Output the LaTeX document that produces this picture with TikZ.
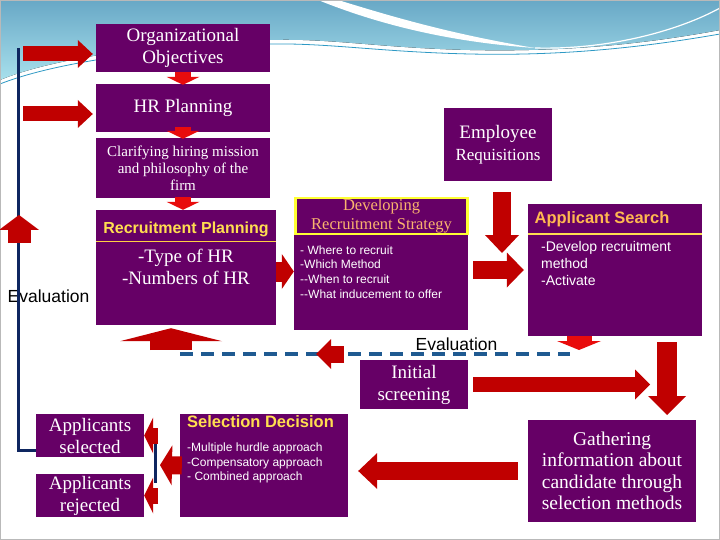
\documentclass[tikz,border=0pt]{standalone}
\usepackage{fontspec}
\setmainfont{Liberation Serif}
\newfontfamily\arialfont{Liberation Sans}
\usetikzlibrary{arrows.meta}

\definecolor{hrpurple}{RGB}{102,0,102}
\definecolor{arrowred}{RGB}{192,0,0}
\definecolor{chevred}{RGB}{232,12,12}
\definecolor{evalnavy}{RGB}{14,38,96}
\definecolor{dashblue}{RGB}{31,90,145}
\definecolor{headyellow}{RGB}{255,222,80}
\definecolor{headorange}{RGB}{255,184,80}
\definecolor{stratorange}{RGB}{250,180,110}
\definecolor{frameyellow}{RGB}{255,255,51}
\definecolor{skytop}{RGB}{104,168,198}
\definecolor{skybot}{RGB}{168,224,236}

\newcommand\serifbig{\fontsize{19}{22}\selectfont}
\newcommand\serifmid{\fontsize{16.5}{18.5}\selectfont}
\newcommand\serifsmall{\fontsize{15}{17}\selectfont}
\newcommand\arialhead{\arialfont\bfseries\fontsize{16.5}{19}\selectfont}
\newcommand\arialmid{\arialfont\fontsize{14}{17}\selectfont}
\newcommand\arialsmall{\arialfont\fontsize{12}{14.6}\selectfont}
\newcommand\arialeval{\arialfont\fontsize{17.5}{20}\selectfont}

\begin{document}
\begin{tikzpicture}[x=1pt, y=-1pt,
    box/.style={fill=hrpurple, text=white, inner sep=0pt, align=center},
    lbl/.style={inner sep=0pt, align=left, text=white, anchor=west},
    blockarrow/.style n args={3}{draw=arrowred, line width=#1,
      -{Triangle[width=#2, length=#3, line width=0pt]}},
    chev/.style={draw=chevred, line width=16pt,
      -{Triangle[width=33pt, length=8pt, line width=0pt]}}]

    \useasboundingbox (0,0) rectangle (720,540);

    % 背景 (上の青い帯)
    \fill[top color=skytop, bottom color=skybot]
      (0,0) -- (720,0) -- (720,30) .. controls (640,45) and (560,52) .. (470,50)
      .. controls (380,48) and (330,38) .. (270,40)
      .. controls (180,42) and (60,55) .. (0,80) -- cycle;
    \fill[white] (318,0) .. controls (380,25) and (450,42) .. (535,48)
      .. controls (450,34) and (390,16) .. (338,0) -- cycle;
    \draw[white, line width=1.2pt] (535,48) .. controls (610,50) and (680,30) .. (720,8);
    \draw[cyan!55!teal, line width=0.8pt] (0,84) .. controls (60,60) and (180,46) .. (270,44)
      .. controls (330,43) and (380,52) .. (470,54) .. controls (560,56) and (640,48) .. (720,34);
    \draw[gray!55, line width=1.2pt] (0.6,0.6) rectangle (719.4,539.4);

    % 左上の流れ
    \node[box, minimum width=174pt, minimum height=48pt, font=\serifbig] (orgobj) at (183,48) {Organizational\\Objectives};
    \node[box, minimum width=174pt, minimum height=48pt, font=\serifbig] (hrplan) at (183,108) {HR Planning};
    \node[box, minimum width=174pt, minimum height=60pt, font=\serifsmall] (clarify) at (183,168) {Clarifying hiring mission\\and philosophy of the\\firm};

    % 採用計画
    \node[box, minimum width=180pt, minimum height=115pt] (recplan) at (186,267.5) {};
    \node[font=\arialfont\bfseries\fontsize{16}{18}\selectfont, text=headyellow, inner sep=0pt] (rechead) at (186,229) {Recruitment Planning};
    \draw[headyellow!85!orange, line width=1pt] (96,241) -- (276,241);
    \node[lbl, anchor=center, align=center, font=\serifbig] (rectext) at (186,267) {-Type of HR\\-Numbers of HR};

    % 採用戦略
    \node[box, minimum width=174pt, minimum height=95pt] (strat) at (381,282.5) {};
    \node[box, draw=frameyellow, line width=2.5pt, minimum width=172pt, minimum height=36pt,
      text=stratorange, font=\serifmid] (strathead) at (381.5,216) {Developing\\Recruitment Strategy};
    \node[lbl, font=\arialsmall] (strattext) at (300,272) {- Where to recruit\\-Which Method\\--When to recruit\\--What inducement to offer};

    % 要員要求
    \node[box, minimum width=108pt, minimum height=73pt, font=\serifbig] (empreq) at (498,144.5) {Employee\\\fontsize{17}{21}\selectfont Requisitions};

    % 応募者探索
    \node[box, minimum width=174pt, minimum height=132pt] (search) at (615,270) {};
    \node[font=\arialhead, text=headorange, inner sep=0pt] (searchhead) at (602,219) {Applicant Search};
    \draw[headyellow, line width=2pt] (528,234) -- (702,234);
    \node[lbl, font=\arialmid] (searchtext) at (541,263) {-Develop recruitment\\method\\-Activate};

    % 評価の文字
    \node[font=\arialeval, inner sep=0pt] (evalleft) at (48.5,296) {Evaluation};
    \node[font=\arialeval, inner sep=0pt] (evalmid) at (456.5,344) {Evaluation};

    % 下段
    \node[box, minimum width=108pt, minimum height=49pt, font=\serifbig] (initscr) at (414,384.5) {Initial\\screening};
    \node[box, minimum width=168pt, minimum height=102pt, font=\fontsize{19.5}{21.5}\selectfont] (gather) at (612,471) {Gathering\\information about\\candidate through\\selection methods};
    \node[box, minimum width=168pt, minimum height=103pt] (seldec) at (264,465.5) {};
    \node[font=\arialhead, text=headyellow, inner sep=0pt] (selhead) at (260.5,422) {Selection Decision};
    \node[lbl, font=\arialsmall] (seltext) at (187,463) {-Multiple hurdle approach\\-Compensatory approach\\- Combined approach};
    \node[box, minimum width=108pt, minimum height=43pt, font=\serifbig] (appsel) at (90,435.5) {Applicants\\selected};
    \node[box, minimum width=108pt, minimum height=43pt, font=\serifbig] (apprej) at (90,495.5) {Applicants\\rejected};

    % 評価のフィードバック線
    \coordinate (loopTop) at (18,48);
    \draw[evalnavy, line width=3pt] (loopTop) |- ([yshift=-14.5pt]appsel.west);
    \coordinate (dashL) at (180,354);
    \coordinate (dashR) at (570,354);
    \draw[dashblue, line width=4pt, dash pattern=on 13pt off 8pt] (dashL) -- (dashR);

    % 左からの矢印
    \coordinate (inA) at (23,54);
    \coordinate (inB) at (23,114);
    \draw[blockarrow={15pt}{28pt}{15pt}, shorten >=3pt] (inA) -- ([yshift=-6pt]orgobj.west);
    \draw[blockarrow={15pt}{28pt}{15pt}, shorten >=3pt] (inB) -- ([yshift=-6pt]hrplan.west);

    % 箱の間の小さい矢印
    \draw[chev] (orgobj.south) -- ([yshift=-1pt]hrplan.north);
    \draw[chev] ([yshift=5pt]hrplan.south) -- ([yshift=-1pt]clarify.north);
    \draw[chev] ([yshift=1pt]clarify.south) -- (clarify.south |- recplan.north);

    % 評価 (上向き)
    \coordinate (evalTail) at (19,243);
    \coordinate (evalTip) at (19,215);
    \draw[blockarrow={23pt}{40pt}{15pt}] (evalTail) -- (evalTip);

    % 計画 -> 戦略 -> 探索
    \draw[blockarrow={20pt}{35pt}{12pt}] ([yshift=-4pt]recplan.east) -- ([yshift=-4pt]recplan.east -| strat.west);
    \coordinate (reqTip) at (502,253);
    \draw[blockarrow={18pt}{34pt}{18pt}, shorten <=11pt] (reqTip |- empreq.south) -- (reqTip);
    \draw[blockarrow={18pt}{35pt}{17pt}, shorten <=5pt, shorten >=4pt] (strat.east |- search.west) -- (search.west);
    \coordinate (searchOut) at (579,350);
    \draw[chev, line width=25pt, -{Triangle[width=44pt, length=9pt, line width=0pt]}] (searchOut |- search.south) -- (searchOut);

    % 点線上の矢印
    \coordinate (dashTail) at (344,354);
    \coordinate (dashTip) at (316,354);
    \draw[blockarrow={17pt}{30pt}{15pt}] (dashTail) -- (dashTip);
    \coordinate (upTail) at (171,350);
    \draw[blockarrow={42pt}{102pt}{13pt}, shorten >=3pt] (upTail) -- (upTail |- recplan.south);

    % 右側の流れ
    \coordinate (downTail) at (667,342);
    \coordinate (downTip) at (667,415);
    \draw[blockarrow={20pt}{38pt}{19pt}] (downTail) -- (downTip);
    \coordinate (scrTip) at (650,384.5);
    \draw[blockarrow={15pt}{30pt}{15pt}, shorten <=5pt] (initscr.east) -- (scrTip);
    \draw[blockarrow={18pt}{36pt}{19pt}, shorten <=10pt, shorten >=10pt] (gather.west) -- (gather.west -| seldec.east);

    % 合否への分岐
    \coordinate (fork) at (155,465);
    \draw[evalnavy, line width=3pt] ([yshift=25pt]fork) -- ([yshift=-18pt]fork);
    \draw[blockarrow={18pt}{40pt}{12pt}, shorten >=5pt] ([xshift=2pt]seldec.west) -- (fork);
    \draw[blockarrow={16pt}{36pt}{9pt}] ([xshift=14pt]appsel.east) -- (appsel.east);
    \draw[blockarrow={16pt}{36pt}{9pt}] ([xshift=14pt]apprej.east) -- (apprej.east);

  \end{tikzpicture}
\end{document}
